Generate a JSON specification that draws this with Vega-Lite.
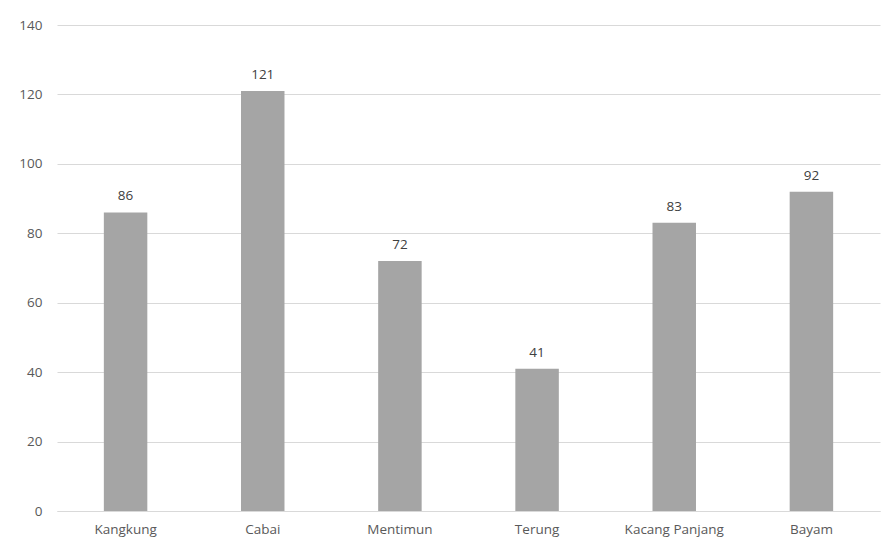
{
  "$schema": "https://vega.github.io/schema/vega-lite/v6.json",
  "width": 823,
  "height": 486,
  "autosize": {"type": "none"},
  "padding": {"left": 57, "top": 25, "right": 2, "bottom": 43},
  "background": "white",
  "config": {
    "view": {"stroke": null},
    "font": "Open Sans"
  },
  "data": {
    "values": [
      {"kategori": "Kangkung", "nilai": 86},
      {"kategori": "Cabai", "nilai": 121},
      {"kategori": "Mentimun", "nilai": 72},
      {"kategori": "Terung", "nilai": 41},
      {"kategori": "Kacang Panjang", "nilai": 83},
      {"kategori": "Bayam", "nilai": 92}
    ]
  },
  "encoding": {
    "x": {
      "field": "kategori",
      "type": "nominal",
      "sort": null,
      "scale": {"paddingInner": 0.683, "paddingOuter": 0.3415},
      "axis": {
        "title": null,
        "labelAngle": 0,
        "ticks": false,
        "domain": true,
        "domainColor": "#d9d9d9",
        "labelPadding": 11,
        "labelFontSize": 13.5,
        "labelColor": "#595959",
        "labelFont": "Open Sans"
      }
    },
    "y": {
      "field": "nilai",
      "type": "quantitative",
      "scale": {"domain": [0, 140]},
      "axis": {
        "title": null,
        "values": [0, 20, 40, 60, 80, 100, 120, 140],
        "ticks": false,
        "domain": false,
        "grid": true,
        "gridColor": "#d9d9d9",
        "gridWidth": 1,
        "labelPadding": 15,
        "labelFontSize": 13.5,
        "labelColor": "#595959",
        "labelFont": "Open Sans"
      }
    }
  },
  "layer": [
    {"mark": {"type": "bar", "color": "#a5a5a5"}},
    {
      "mark": {
        "type": "text",
        "baseline": "bottom",
        "dy": -9,
        "fontSize": 13.5,
        "color": "#404040",
        "font": "Open Sans"
      },
      "encoding": {"text": {"field": "nilai", "type": "quantitative"}}
    }
  ]
}
